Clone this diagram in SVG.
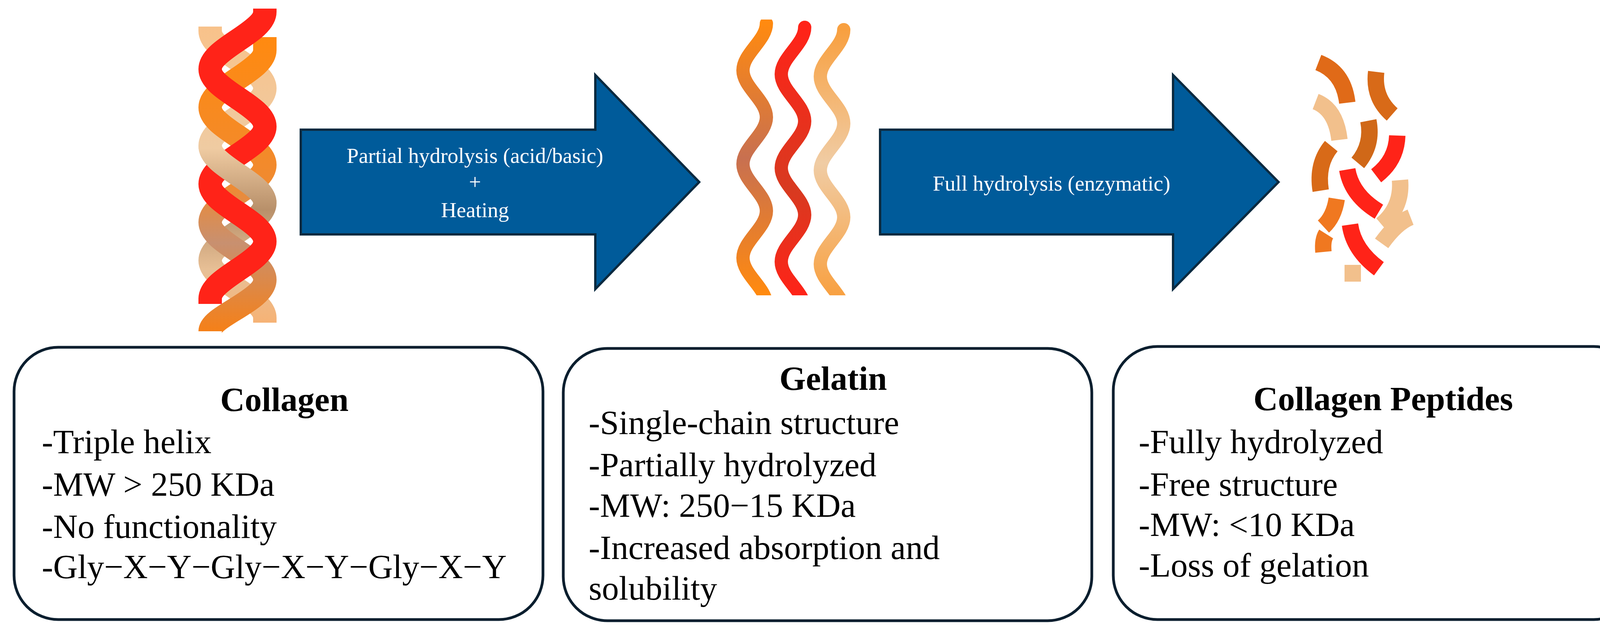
<svg xmlns="http://www.w3.org/2000/svg" width="4236" height="1623" viewBox="0 0 4236 1623">
<defs>
<linearGradient id="gTan" gradientUnits="userSpaceOnUse" x1="0" y1="68" x2="0" y2="848">
<stop offset="0" stop-color="#f8c28a"/><stop offset="0.4" stop-color="#efcba2"/><stop offset="0.6" stop-color="#b8906a"/><stop offset="0.8" stop-color="#e8c096"/><stop offset="1" stop-color="#f8b070"/>
</linearGradient>
<linearGradient id="gOr" gradientUnits="userSpaceOnUse" x1="0" y1="95" x2="0" y2="848">
<stop offset="0" stop-color="#ff8a10"/><stop offset="0.5" stop-color="#f08a30"/><stop offset="0.7" stop-color="#c89070"/><stop offset="1" stop-color="#f58018"/>
</linearGradient>
<linearGradient id="gL" gradientUnits="userSpaceOnUse" x1="0" y1="60" x2="0" y2="750">
<stop offset="0" stop-color="#ff8a10"/><stop offset="0.5" stop-color="#c87050"/><stop offset="1" stop-color="#ff8a10"/>
</linearGradient>
<linearGradient id="gM" gradientUnits="userSpaceOnUse" x1="0" y1="70" x2="0" y2="760">
<stop offset="0" stop-color="#ff2318"/><stop offset="0.6" stop-color="#d83a20"/><stop offset="1" stop-color="#ff2318"/>
</linearGradient>
<linearGradient id="gR" gradientUnits="userSpaceOnUse" x1="0" y1="76" x2="0" y2="760">
<stop offset="0" stop-color="#f8a040"/><stop offset="0.5" stop-color="#f0cca4"/><stop offset="1" stop-color="#f8a040"/>
</linearGradient>
<clipPath id="cG"><rect x="1800" y="50" width="450" height="706"/></clipPath>
</defs>
<style>
.box{fill:#fff;stroke:#0a1e2e;stroke-width:7}
.t{font-family:"Liberation Serif","Times New Roman",serif;font-size:87px;fill:#000}
.h{font-weight:bold;text-anchor:middle}
.at{font-family:"Liberation Serif","Times New Roman",serif;font-size:55px;fill:#fff;text-anchor:middle}
.s{fill:none;stroke-width:60}
.g{fill:none;stroke-width:34;stroke-linecap:round}
.p{fill:none;stroke-width:42}
.arrow{fill:#005b9a;stroke:#0a2a40;stroke-width:6}
</style>
<rect width="4236" height="1623" fill="#fff"/>
<g id="connectors">
<polygon class="arrow" points="770,332 1524,332 1524,192 1790,466 1524,740 1524,600 770,600"/>
<polygon class="arrow" points="2253,332 3003,332 3003,192 3273,466 3003,740 3003,600 2253,600"/>
<text class="at" x="1216" y="417">Partial hydrolysis (acid/basic)</text>
<text class="at" x="1216" y="484">+</text>
<text class="at" x="1216" y="556">Heating</text>
<text class="at" x="2692" y="488">Full hydrolysis (enzymatic)</text>
</g>
<g id="collagen-helix">
<path class="s" stroke="url(#gTan)" d="M538,68 L538,79 C538,132 678,173 678,226 C678,279 538,320 538,373 C538,426 678,467 678,520 C678,573 538,614 538,667 C538,720 678,761 678,814 L678,826"/>
<path class="s" stroke="url(#gOr)" d="M678,95 L678,128 C678,181 538,222 538,275 C538,328 678,369 678,422 C678,475 538,516 538,569 C538,622 678,663 678,716 C678,769 538,810 538,848"/>
<path class="s" stroke="#ff2318" d="M678,22 L678,30 C678,83 538,124 538,177 C538,230 678,271 678,324 C678,377 538,418 538,471 C538,524 678,565 678,618 C678,671 538,712 538,765 L538,778"/>
<path class="s" stroke="url(#gTan)" d="M538,373 C538,426 678,467 678,520"/>
<path class="s" stroke="url(#gTan)" d="M678,814 L678,826"/>
</g>
<g id="gelatin-chains" clip-path="url(#cG)">
<path class="g" stroke="url(#gL)" d="M1962,60 C1962,103 1902,137 1902,180 C1902,223 1962,257 1962,300 C1962,343 1902,377 1902,420 C1902,463 1962,497 1962,540 C1962,583 1902,617 1902,660 C1902,703 1962,737 1962,780"/>
<path class="g" stroke="url(#gM)" d="M2060,70 C2060,113 2000,147 2000,190 C2000,233 2060,267 2060,310 C2060,353 2000,387 2000,430 C2000,473 2060,507 2060,550 C2060,593 2000,627 2000,670 C2000,713 2060,747 2060,790"/>
<path class="g" stroke="url(#gR)" d="M2160,76 C2160,119 2100,153 2100,196 C2100,239 2160,273 2160,316 C2160,359 2100,393 2100,436 C2100,479 2160,513 2160,556 C2160,599 2100,633 2100,676 C2100,719 2160,753 2160,796"/>
</g>
<g id="peptides">
<path class="p" stroke="#e06a18" d="M3375,160 Q3440,185 3449,263"/>
<path class="p" stroke="#d86a18" d="M3523,184 Q3515,250 3564,293"/>
<path class="p" stroke="#f2c08c" d="M3368,260 Q3420,280 3429,358"/>
<path class="p" stroke="#d06818" d="M3503,309 Q3515,370 3476,417"/>
<path class="p" stroke="#ff2318" d="M3577,347 Q3575,410 3523,450"/>
<path class="p" stroke="#d86a18" d="M3408,374 Q3370,420 3381,488"/>
<path class="p" stroke="#ff2318" d="M3449,434 Q3460,500 3530,542"/>
<path class="p" stroke="#f2c08c" d="M3584,461 Q3590,530 3537,575"/>
<path class="p" stroke="#f07820" d="M3422,509 Q3415,555 3388,580"/>
<path class="p" stroke="#f2c08c" d="M3611,556 Q3575,570 3537,623"/>
<path class="p" stroke="#ff2318" d="M3456,575 Q3465,640 3530,688"/>
<path class="p" stroke="#f07820" stroke-width="30" d="M3395,599 Q3385,615 3388,645"/>
<path class="p" stroke="#f2c08c" stroke-width="30" d="M3463,678 L3463,721"/>
</g>
<g id="node-collagen">
<rect class="box" x="36" y="889" width="1354" height="697" rx="113"/>
<text class="t h" x="728" y="1052">Collagen</text>
<text class="t" x="107" y="1160">-Triple helix</text>
<text class="t" x="107" y="1269">-MW &gt; 250 KDa</text>
<text class="t" x="107" y="1377">-No functionality</text>
<text class="t" x="107" y="1480">-Gly−X−Y−Gly−X−Y−Gly−X−Y</text>
</g>
<g id="node-gelatin">
<rect class="box" x="1442" y="892" width="1353" height="697" rx="113"/>
<text class="t h" x="2133" y="998">Gelatin</text>
<text class="t" x="1507" y="1111">-Single-chain structure</text>
<text class="t" x="1507" y="1219">-Partially hydrolyzed</text>
<text class="t" x="1507" y="1323">-MW: 250−15 KDa</text>
<text class="t" x="1507" y="1431">-Increased absorption and</text>
<text class="t" x="1507" y="1535">solubility</text>
</g>
<g id="node-peptides">
<rect class="box" x="2850" y="887" width="1343" height="699" rx="113"/>
<text class="t h" x="3541" y="1050">Collagen Peptides</text>
<text class="t" x="2915" y="1160">-Fully hydrolyzed</text>
<text class="t" x="2915" y="1269">-Free structure</text>
<text class="t" x="2915" y="1372">-MW: &lt;10 KDa</text>
<text class="t" x="2915" y="1476">-Loss of gelation</text>
</g>
</svg>
